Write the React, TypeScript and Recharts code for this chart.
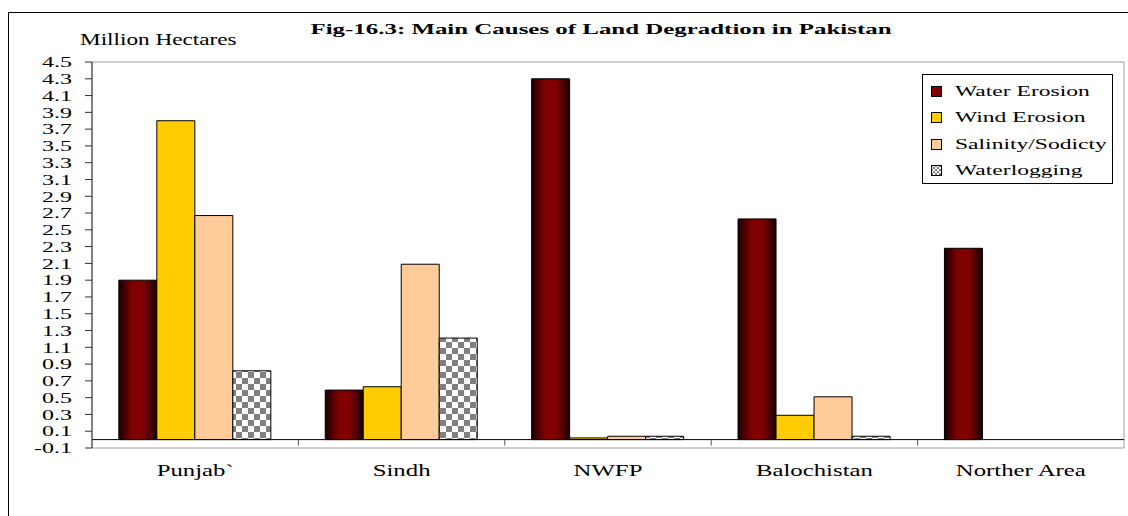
import React from 'react';
import { BarChart, Bar, XAxis, YAxis, Legend, ReferenceLine, ReferenceArea } from 'recharts';

const regions = ['Punjab`', 'Sindh', 'NWFP', 'Balochistan', 'Norther Area'];
const waterErosion = [1.9, 0.59, 4.3, 2.63, 2.28];
const windErosion = [3.8, 0.63, 0.02, 0.29, 0];
const salinitySodicity = [2.67, 2.09, 0.04, 0.51, 0];
const waterlogging = [0.82, 1.21, 0.04, 0.04, 0];
const yTicks = [-0.1, 0.1, 0.3, 0.5, 0.7, 0.9, 1.1, 1.3, 1.5, 1.7, 1.9, 2.1, 2.3, 2.5, 2.7, 2.9, 3.1, 3.3, 3.5, 3.7, 3.9, 4.1, 4.3, 4.5];

const series = [
  { key: 'water', name: 'Water Erosion', fill: 'url(#waterGrad)', swatch: '#800000' },
  { key: 'wind', name: 'Wind Erosion', fill: '#FFCC00', swatch: '#FFCC00' },
  { key: 'salinity', name: 'Salinity/Sodicty', fill: '#FFCC99', swatch: '#FFCC99' },
  { key: 'logging', name: 'Waterlogging', fill: 'url(#checker)', swatch: 'checker' },
];

const data = regions.map((region, i) => ({
  region,
  water: waterErosion[i],
  wind: windErosion[i],
  salinity: salinitySodicity[i],
  logging: waterlogging[i],
}));

const FONT = "'Liberation Serif', 'Times New Roman', serif";
const SX = 1.55;

const YTick = (props: any) => {
  const { x, y, payload } = props;
  return (
    <text
      transform={`translate(${x - 13},${y}) scale(1.6,1)`}
      textAnchor="end"
      dominantBaseline="central"
      fontSize={15}
      fontFamily={FONT}
      fill="#000"
    >
      {Number(payload.value).toFixed(1)}
    </text>
  );
};

const XTick = (props: any) => {
  const { x, y, payload } = props;
  return (
    <text
      transform={`translate(${x},${y + 20}) scale(${SX},1)`}
      textAnchor="middle"
      fontSize={16}
      fontFamily={FONT}
      fill="#000"
    >
      {payload.value}
    </text>
  );
};

// zero line with the category boundary ticks hanging below it
const ZeroLine = (props: any) => {
  const { x1, x2, y1 } = props;
  const step = (x2 - x1) / regions.length;
  return (
    <g>
      <line x1={x1} x2={x2} y1={y1} y2={y1} stroke="#000" strokeWidth={1} />
      {regions.slice(1).map((_, i) => (
        <line key={i} x1={x1 + step * (i + 1)} x2={x1 + step * (i + 1)} y1={y1} y2={y1 + 6} stroke="#555" />
      ))}
    </g>
  );
};

const Swatch = ({ color }: { color: string }) => (
  <svg width={11} height={11} style={{ display: 'block' }}>
    <defs>
      <pattern id="checkerSmall" width={4} height={4} patternUnits="userSpaceOnUse">
        <rect width={4} height={4} fill="#fff" />
        <rect width={2} height={2} fill="#808080" />
        <rect x={2} y={2} width={2} height={2} fill="#808080" />
      </pattern>
    </defs>
    <rect x={0.5} y={0.5} width={10} height={10} fill={color === 'checker' ? 'url(#checkerSmall)' : color} stroke="#000" />
  </svg>
);

const LegendBox = () => (
  <div
    style={{
      border: '1px solid #000',
      background: '#fff',
      width: 191,
      height: 110,
      boxSizing: 'border-box',
      padding: '3px 0 0 8px',
      fontFamily: FONT,
      fontSize: 15,
      color: '#000',
    }}
  >
    {series.map((s) => (
      <div key={s.key} style={{ height: 26.5, display: 'flex', alignItems: 'center' }}>
        <Swatch color={s.swatch} />
        <span
          style={{
            display: 'inline-block',
            marginLeft: 13,
            whiteSpace: 'nowrap',
            transform: 'scaleX(1.57)',
            transformOrigin: 'left center',
          }}
        >
          {s.name}
        </span>
      </div>
    ))}
  </div>
);

export default function App() {
  return (
    <div style={{ position: 'absolute', left: 0, top: 0, width: 1128, height: 516, overflow: 'hidden', background: '#fff' }}>
      <style>{'body{margin:0;}'}</style>
      <div
        style={{
          position: 'absolute',
          left: 8,
          top: 12,
          width: 1200,
          height: 600,
          borderTop: '1px solid #000',
          borderLeft: '1px solid #000',
        }}
      />
      <div
        style={{
          position: 'absolute',
          left: 601,
          top: 20,
          transform: 'translateX(-50%) scaleX(1.66)',
          fontFamily: FONT,
          fontWeight: 'bold',
          fontSize: 15,
          lineHeight: '18px',
          whiteSpace: 'nowrap',
          color: '#000',
        }}
      >
        Fig-16.3: Main Causes of Land Degradtion in Pakistan
      </div>
      <div
        style={{
          position: 'absolute',
          left: 80,
          top: 31,
          transform: 'scaleX(1.45)',
          transformOrigin: 'left center',
          fontFamily: FONT,
          fontSize: 16,
          lineHeight: '18px',
          whiteSpace: 'nowrap',
          color: '#000',
        }}
      >
        Million Hectares
      </div>
      <div style={{ position: 'absolute', left: 8, top: 12 }}>
        <BarChart
          width={1120}
          height={500}
          data={data}
          margin={{ top: 50, right: 4, bottom: 34, left: 0 }}
          barCategoryGap="13%"
          barGap={0}
        >
          <defs>
            <linearGradient id="waterGrad" x1="0" y1="0" x2="1" y2="0">
              <stop offset="0%" stopColor="#1a0000" />
              <stop offset="35%" stopColor="#800000" />
              <stop offset="65%" stopColor="#800000" />
              <stop offset="100%" stopColor="#1a0000" />
            </linearGradient>
            <pattern id="checker" width={12} height={12} patternUnits="userSpaceOnUse">
              <rect width={12} height={12} fill="#fff" />
              <rect width={6} height={6} fill="#808080" />
              <rect x={6} y={6} width={6} height={6} fill="#808080" />
            </pattern>
          </defs>
          <ReferenceArea y1={-0.1} y2={4.5} fill="none" stroke="#a0a0a0" strokeWidth={1} />
          <XAxis dataKey="region" axisLine={false} tickLine={false} tick={XTick} interval={0} height={30} />
          <YAxis
            domain={[-0.1, 4.5]}
            ticks={yTicks}
            interval={0}
            allowDataOverflow
            width={84}
            stroke="#333"
            tickSize={7}
            tickMargin={0}
            tick={YTick}
          />
          {series.map((s) => (
            <Bar key={s.key} dataKey={s.key} name={s.name} fill={s.fill} stroke="#000" strokeWidth={1} isAnimationActive={false} />
          ))}
          <ReferenceLine y={0} shape={ZeroLine} />
          <Legend
            layout="vertical"
            align="center"
            verticalAlign="middle"
            content={LegendBox}
            wrapperStyle={{ left: 914, top: 62, width: 191, height: 110 }}
          />
        </BarChart>
      </div>
    </div>
  );
}
